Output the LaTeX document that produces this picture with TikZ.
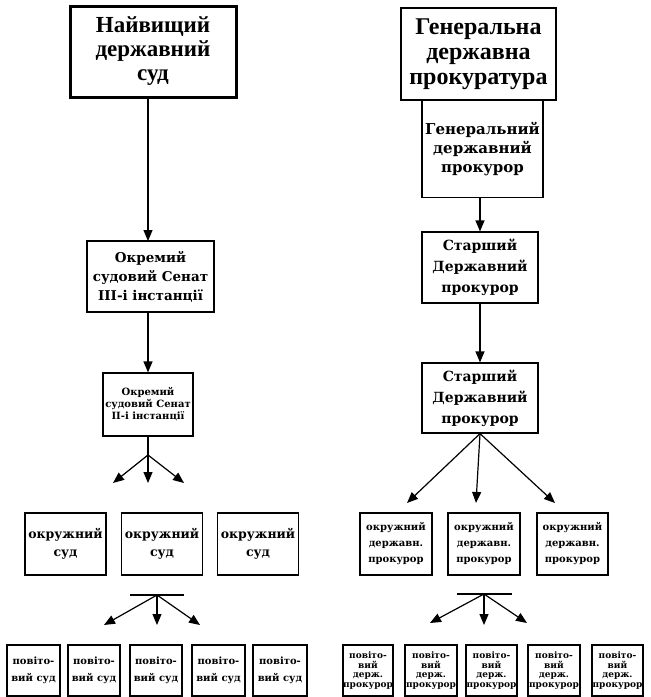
\documentclass[tikz,border=0pt]{standalone}
\usepackage{fontspec}
\setmainfont{Liberation Serif}
\newfontfamily\boxfont{DejaVu Serif}
\usetikzlibrary{arrows.meta, calc}

\begin{document}
\begin{tikzpicture}[x=1pt, y=-1pt,
    box/.style={draw, line width=1.2pt, align=center, inner sep=0pt},
    arr/.style={line width=1.2pt, -{Triangle[length=11pt, width=9pt]}}]
    \useasboundingbox (0,0) rectangle (651,697);

    % court column
    \node[box, line width=3pt, minimum width=166pt, minimum height=91pt,
        font=\bfseries\fontsize{23}{24}\selectfont] (vsud) at (153,51.5) {Найвищий\\державний\\суд};
    \node[box, minimum width=127pt, minimum height=71pt,
        font=\boxfont\bfseries\fontsize{13.5}{19}\selectfont] (senat3) at (150.5,276.5) {Окремий\\судовий Сенат\\III-і інстанції};
    \node[box, minimum width=90pt, minimum height=63pt,
        font=\boxfont\bfseries\fontsize{10}{12}\selectfont] (senat2) at (148,404.5) {Окремий\\судовий Сенат\\II-і інстанції};
    \draw[arr] (148,97) -- (148,241);
    \draw[arr] (senat2.north |- senat3.south) -- (senat2.north);

    \coordinate (s1) at (148,455);
    \coordinate (t1) at (113,483);
    \coordinate (t2) at (148,483);
    \coordinate (t3) at (184,483);
    \draw[line width=1.2pt] (senat2.south) -- (s1);
    \foreach \t in {t1,t2,t3} {
        \draw[arr] (s1) -- (\t);
    }

    \foreach \i/\x in {1/65.5, 2/162, 3/258} {
        \node[box, minimum width=81pt, minimum height=62pt,
            font=\boxfont\bfseries\fontsize{12.5}{18}\selectfont] (okr\i) at (\x,544) {окружний\\суд};
    }

    \coordinate (b1l) at (130,595);
    \coordinate (b1r) at (184,595);
    \coordinate (s2) at (157,595);
    \coordinate (u1) at (104,625);
    \coordinate (u2) at (157,625);
    \coordinate (u3) at (200,625);
    \draw[line width=1.2pt] (b1l) -- (b1r);
    \foreach \t in {u1,u2,u3} {
        \draw[arr] (s2) -- (\t);
    }

    \foreach \i/\x/\w in {1/33.5/53, 2/94/52, 3/156/52, 4/218.5/53, 5/280/54} {
        \node[box, minimum width=\w pt, minimum height=51pt,
            font=\boxfont\bfseries\fontsize{10}{17}\selectfont] (pov\i) at (\x,670.5) {повіто-\\вий суд};
    }

    % prosecutor column
    \node[box, line width=2pt, minimum width=155pt, minimum height=92pt,
        font=\bfseries\fontsize{24}{25}\selectfont] (genprok) at (478.5,54) {Генеральна\\державна\\прокуратура};
    \node[box, minimum width=121pt, minimum height=97pt, anchor=north,
        font=\boxfont\bfseries\fontsize{15}{19}\selectfont] (genpr) at (482.5,100) {Генеральний\\державний\\прокурор};
    \node[box, minimum width=116pt, minimum height=71pt,
        font=\boxfont\bfseries\fontsize{14}{21}\selectfont] (st1) at (480,267.5) {Старший\\Державний\\прокурор};
    \node[box, minimum width=116pt, minimum height=70pt,
        font=\boxfont\bfseries\fontsize{14}{21}\selectfont] (st2) at (480,398) {Старший\\Державний\\прокурор};
    \draw[arr] (st1.north |- genpr.south) -- (st1.north);
    \draw[arr] (st1.south) -- (st2.north);

    \coordinate (p1) at (407,503);
    \coordinate (p2) at (476,503);
    \coordinate (p3) at (555,503);
    \foreach \t in {p1,p2,p3} {
        \draw[arr] (st2.south) -- (\t);
    }

    \foreach \i/\x/\w in {1/396/72, 2/484/72, 3/572.5/71} {
        \node[box, minimum width=\w pt, minimum height=62pt,
            font=\boxfont\bfseries\fontsize{10}{16}\selectfont] (okp\i) at (\x,544) {окружний\\державн.\\прокурор};
    }

    \coordinate (b2l) at (457,594);
    \coordinate (b2r) at (512,594);
    \coordinate (s3) at (484,594);
    \coordinate (q1) at (430,623);
    \coordinate (q2) at (484,625);
    \coordinate (q3) at (527,623);
    \draw[line width=1.2pt] (b2l) -- (b2r);
    \foreach \t in {q1,q2,q3} {
        \draw[arr] (s3) -- (\t);
    }

    \foreach \i/\x/\w in {1/368/50, 2/431/52, 3/491.5/51, 4/554/52, 5/617.5/51} {
        \node[box, minimum width=\w pt, minimum height=51pt,
            font=\boxfont\bfseries\fontsize{9}{9.5}\selectfont] (ppr\i) at (\x,670.5) {повіто-\\вий\\держ.\\прокурор};
    }
\end{tikzpicture}
\end{document}
